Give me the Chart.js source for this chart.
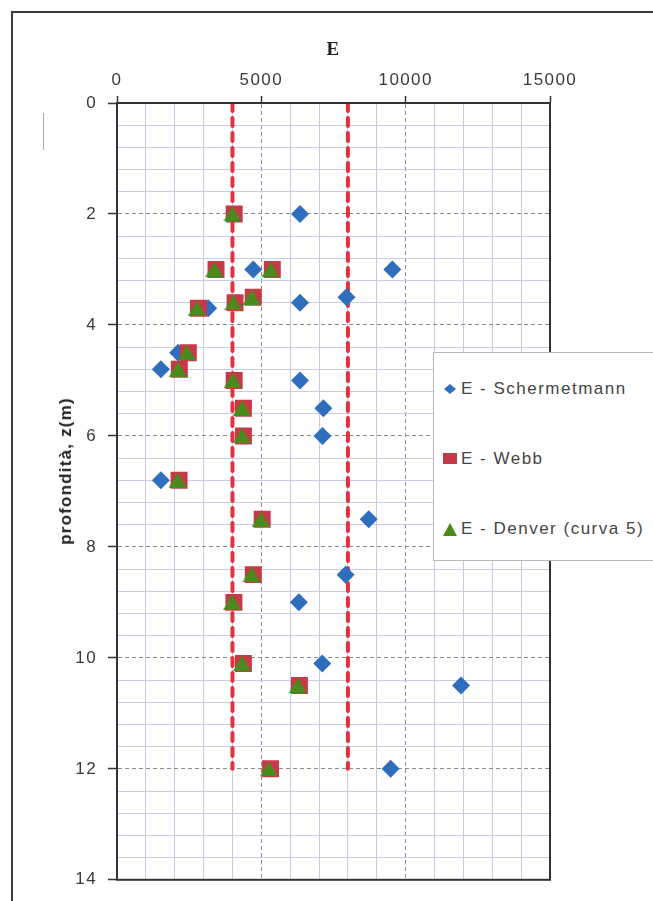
<!DOCTYPE html>
<html>
<head>
<meta charset="utf-8">
<script src="https://cdn.jsdelivr.net/npm/chart.js@4.4.1/dist/chart.umd.min.js"></script>
<style>
body{margin:0;background:#fff;width:653px;height:901px;overflow:hidden;position:relative;font-family:"Liberation Sans",Arial,sans-serif;}
#frame{position:absolute;left:11px;top:11px;width:700px;height:950px;border:2px solid #3a3a3a;}
#stray{position:absolute;left:43px;top:113px;width:1px;height:37px;background:#aaa;}
#chart{position:absolute;left:0;top:0;}
#ytitle{position:absolute;left:66px;top:471px;transform:translate(-50%,-50%) rotate(-90deg);font-weight:bold;font-size:17px;letter-spacing:1.2px;color:#222;white-space:nowrap;}
#legend{position:absolute;left:433px;top:352px;width:230px;height:207px;border:1px solid #b8b8b8;background:#fff;}
#legend .item{position:absolute;left:9px;height:20px;display:flex;align-items:center;font-size:17px;letter-spacing:1.5px;color:#444;}
#legend svg{margin-right:4px;}
</style>
</head>
<body>
<div id="frame"></div>
<div id="stray"></div>
<canvas id="chart" width="653" height="901"></canvas>
<div id="ytitle">profondità, z(m)</div>
<div id="legend">
  <div class="item" style="top:26px"><svg width="14" height="12"><polygon points="1,6 7,1 13,6 7,11" fill="#2f6dbd"/></svg>E - Schermetmann</div>
  <div class="item" style="top:96px"><svg width="14" height="12"><rect x="0" y="0" width="14" height="11" fill="#c63a48"/></svg>E - Webb</div>
  <div class="item" style="top:166px"><svg width="14" height="13"><polygon points="0,13 7,0 14,13" fill="#4b8a1d"/></svg>E - Denver (curva 5)</div>
</div>
<script>
var depth = [2, 3, 3, 3.5, 3.6, 3.7, 4.5, 4.8, 5, 5.5, 6, 6.8, 7.5, 8.5, 9, 10.1, 10.5, 12];
var eSchmertmann = [6340, 4720, 9540, 7950, 6340, 3160, 2120, 1520, 6340, 7150, 7120, 1520, 8720, 7920, 6300, 7110, 11920, 9480];
var eWebb = [4060, 3430, 5380, 4720, 4090, 2820, 2470, 2160, 4060, 4380, 4380, 2150, 5030, 4720, 4050, 4380, 6320, 5320];
var eDenver = [4000, 3370, 5320, 4670, 4030, 2770, 2420, 2110, 4010, 4330, 4330, 2100, 4980, 4660, 3990, 4330, 6260, 5260];

// limiti tratteggiati
var limitE = [4000, 8000];
var limitDepth = [0, 12];

var xTickLabels = [0, 5000, 10000, 15000];
var yTickLabels = [0, 2, 4, 6, 8, 10, 12, 14];

function pts(xs) {
    return xs.map(function(v, i) { return {x: v, y: depth[i]}; });
}
function isMajorX(v) { return xTickLabels.indexOf(v) >= 0; }
function isMajorY(v) { return yTickLabels.some(function(t) { return Math.abs(t - v) < 1e-6; }); }

// triangolo che riempie il suo riquadro, come in Excel
var tri = document.createElement('canvas');
tri.width = 18; tri.height = 15;
var tc = tri.getContext('2d');
tc.fillStyle = '#4b8a1d';
tc.beginPath(); tc.moveTo(0, 15); tc.lineTo(9, 0); tc.lineTo(18, 15); tc.closePath(); tc.fill();

var limitSets = limitE.map(function(e) {
    return {
        data: limitDepth.map(function(d) { return {x: e, y: d}; }),
        showLine: true,
        borderColor: '#e2323e',
        borderWidth: 4,
        borderDash: [8, 7],
        borderCapStyle: 'round',
        pointRadius: 0,
        order: 4
    };
});

var frameArea = {
    id: 'frameArea',
    beforeDraw: function(chart) {
        chart.ctx.letterSpacing = '1.4px';
    },
    afterDatasetsDraw: function(chart) {
        var a = chart.chartArea, c = chart.ctx;
        c.save();
        c.strokeStyle = '#333';
        c.lineWidth = 2;
        c.strokeRect(a.left, a.top, a.right - a.left, a.bottom - a.top);
        c.restore();
    }
};

var ctx = document.getElementById('chart').getContext('2d');
var chart = new Chart(ctx, {
    type: 'scatter',
    data: {
        datasets: [
            {label: 'E - Denver (curva 5)', data: pts(eDenver), pointStyle: tri, order: 1},
            {label: 'E - Webb', data: pts(eWebb), pointStyle: 'rect', pointRadius: 12, backgroundColor: '#c63a48', borderWidth: 0, order: 2},
            {label: 'E - Schermetmann', data: pts(eSchmertmann), pointStyle: 'rectRot', pointRadius: 9, backgroundColor: '#2f6dbd', borderWidth: 0, order: 3}
        ].concat(limitSets)
    },
    plugins: [frameArea],
    options: {
        responsive: false,
        animation: false,
        events: [],
        layout: {padding: {left: 0, top: 0, right: 103, bottom: 21}},
        plugins: {legend: {display: false}, tooltip: {enabled: false}},
        scales: {
            x: {
                type: 'linear', position: 'top', min: 0, max: 15000,
                afterFit: function(s) { s.height = 103; },
                ticks: {
                    stepSize: 1000, autoSkip: false, maxRotation: 0, padding: 5,
                    color: '#3a3a3a', font: {family: '"Liberation Sans", Arial', size: 17},
                    callback: function(v) { return isMajorX(v) ? v : ''; }
                },
                grid: {
                    color: function(c) { return c.tick && isMajorX(c.tick.value) ? '#8a8a8a' : '#c8cae6'; },
                    lineWidth: 1,
                    tickLength: 7,
                    tickWidth: 1.5,
                    tickColor: function(c) { return c.tick && isMajorX(c.tick.value) ? '#333' : 'rgba(0,0,0,0)'; }
                },
                border: {
                    display: true, color: '#333', width: 2,
                    dash: function(c) { return c.tick && isMajorX(c.tick.value) ? [4, 3] : []; }
                },
                title: {display: true, text: 'E', color: '#222', padding: {top: 39}, font: {family: '"Liberation Serif", serif', size: 19, weight: 'bold'}}
            },
            y: {
                type: 'linear', reverse: true, min: 0, max: 14,
                afterFit: function(s) { s.width = 117; },
                ticks: {
                    stepSize: 0.4, autoSkip: false, padding: 11,
                    color: '#3a3a3a', font: {family: '"Liberation Sans", Arial', size: 17},
                    callback: function(v) { return isMajorY(v) ? Math.round(v) : ''; }
                },
                grid: {
                    color: function(c) { return c.tick && isMajorY(c.tick.value) ? '#8a8a8a' : '#c8cae6'; },
                    lineWidth: 1,
                    tickLength: 9,
                    tickWidth: 1.5,
                    tickColor: function(c) { return c.tick && isMajorY(c.tick.value) ? '#333' : 'rgba(0,0,0,0)'; }
                },
                border: {
                    display: true, color: '#333', width: 2,
                    dash: function(c) { return c.tick && isMajorY(c.tick.value) ? [4, 3] : []; }
                }
            }
        }
    }
});
</script>
</body>
</html>
